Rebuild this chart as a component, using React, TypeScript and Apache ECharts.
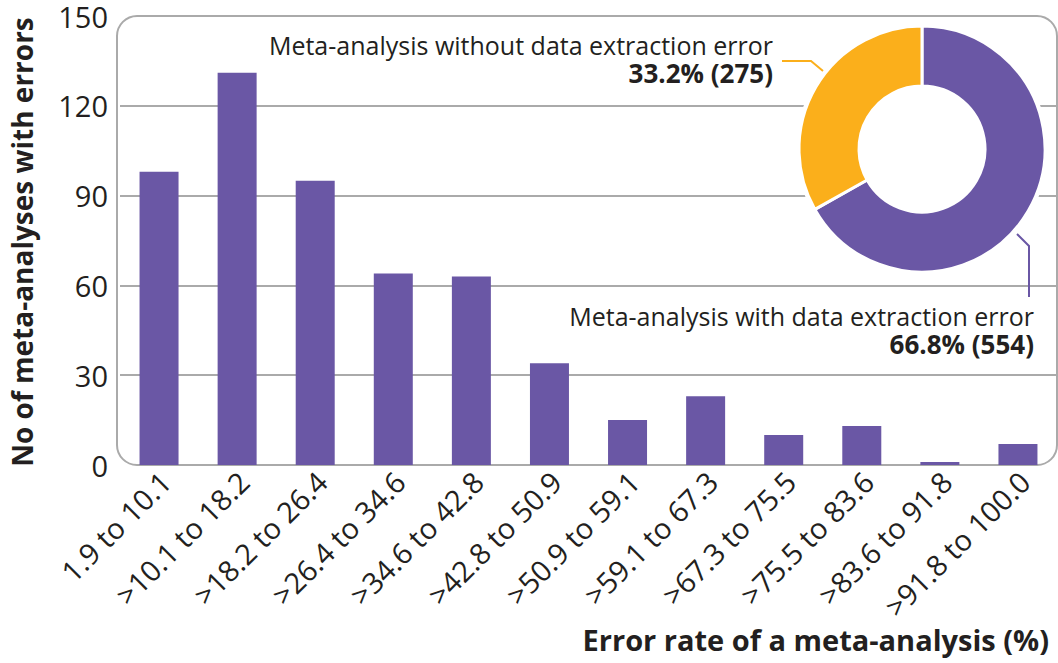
import React, { useEffect, useRef } from "react";
import * as echarts from "echarts";

const categories = [
  "1.9 to 10.1", ">10.1 to 18.2", ">18.2 to 26.4", ">26.4 to 34.6", ">34.6 to 42.8",
  ">42.8 to 50.9", ">50.9 to 59.1", ">59.1 to 67.3", ">67.3 to 75.5", ">75.5 to 83.6",
  ">83.6 to 91.8", ">91.8 to 100.0",
];
const counts = [98, 131, 95, 64, 63, 34, 15, 23, 10, 13, 1, 7];
const pieNames = ["Meta-analysis with data extraction error", "Meta-analysis without data extraction error"];
const pieValues = [554, 275];
const pieLabels = ["66.8% (554)", "33.2% (275)"];

const PURPLE = "#6a57a5";
const ORANGE = "#fbaf1b";
const GRID = "#aaaaaa";
const TEXT = "#231f20";
const FONT = "'Open Sans', 'Noto Sans', sans-serif";

function pieLabel(i: number, x: number, y: number) {
  return {
    type: "text",
    z: 6,
    x,
    y,
    style: {
      text: "{a|" + pieNames[i] + "}\n{b|" + pieLabels[i] + "}",
      align: "right",
      verticalAlign: "top",
      fill: TEXT,
      fontFamily: FONT,
      rich: {
        a: { fontSize: 25, lineHeight: 28, fontFamily: FONT, fill: TEXT, align: "right" },
        b: { fontSize: 26, lineHeight: 28, fontWeight: "bold", fontFamily: FONT, fill: TEXT, align: "right" },
      },
    },
  };
}

export default function App() {
  const ref = useRef<HTMLDivElement>(null);
  useEffect(() => {
    if (!ref.current) return;
    const chart = echarts.init(ref.current, null, { renderer: "svg" });
    chart.setOption({
      animation: false,
      backgroundColor: "#ffffff",
      textStyle: { fontFamily: FONT },
      grid: { left: 120, right: 1, top: 16, bottom: 198 },
      xAxis: {
        type: "category",
        data: categories,
        axisLine: { show: false },
        axisTick: { show: false },
        axisLabel: {
          interval: 0,
          rotate: 45,
          margin: 5,
          fontSize: 29,
          lineHeight: 18,
          verticalAlign: "top",
          color: TEXT,
          fontFamily: FONT,
        },
      },
      yAxis: {
        type: "value",
        min: 0,
        max: 150,
        interval: 30,
        axisLine: { show: false },
        axisTick: { show: false },
        axisLabel: { fontSize: 29, lineHeight: 28, color: TEXT, margin: 12, fontFamily: FONT },
        splitLine: {
          show: true,
          lineStyle: {
            color: ["transparent", GRID, GRID, GRID, GRID, "transparent"],
            width: 2,
          },
        },
      },
      series: [
        {
          type: "bar",
          data: counts,
          barWidth: 39,
          itemStyle: { color: PURPLE },
          z: 3,
        },
        {
          type: "pie",
          silent: true,
          center: [922, 149],
          radius: [0, 126],
          label: { show: false },
          labelLine: { show: false },
          data: [{ value: 1, itemStyle: { color: "#ffffff" } }],
          z: 4,
        },
        {
          type: "pie",
          center: [922, 149],
          radius: [63, 123],
          startAngle: 90,
          clockwise: true,
          label: { show: false },
          labelLine: { show: false },
          itemStyle: { borderColor: "#ffffff", borderWidth: 3 },
          data: pieNames.map((n, i) => ({
            name: n,
            value: pieValues[i],
            itemStyle: { color: i === 0 ? PURPLE : ORANGE },
          })),
          z: 5,
        },
      ],
      graphic: [
        {
          type: "rect",
          z: 1,
          silent: true,
          shape: { x: 117, y: 16, width: 940, height: 449, r: 20 },
          style: { fill: "none", stroke: GRID, lineWidth: 2 },
        },
        {
          type: "text",
          x: 22,
          y: 242,
          rotation: Math.PI / 2,
          style: {
            text: "No of meta-analyses with errors",
            fontSize: 28,
            fontWeight: "bold",
            fill: TEXT,
            fontFamily: FONT,
            align: "center",
            verticalAlign: "middle",
          },
        },
        {
          type: "text",
          x: 1049,
          y: 639,
          style: {
            text: "Error rate of a meta-analysis (%)",
            fontSize: 29,
            fontWeight: "bold",
            fill: TEXT,
            fontFamily: FONT,
            align: "right",
            verticalAlign: "middle",
          },
        },
        {
          type: "polyline",
          z: 6,
          shape: { points: [[782, 61], [811, 61], [823, 71]] },
          style: { stroke: ORANGE, lineWidth: 2, fill: "none" },
        },
        {
          type: "polyline",
          z: 6,
          shape: { points: [[1017, 234], [1029, 246], [1029, 297]] },
          style: { stroke: PURPLE, lineWidth: 2, fill: "none" },
        },
        pieLabel(1, 773, 31),
        pieLabel(0, 1034, 302),
      ],
    });
    return () => chart.dispose();
  }, []);
  return (
    <div
      ref={ref}
      style={{ position: "fixed", left: 0, top: 0, width: 1058, height: 663 }}
    />
  );
}
